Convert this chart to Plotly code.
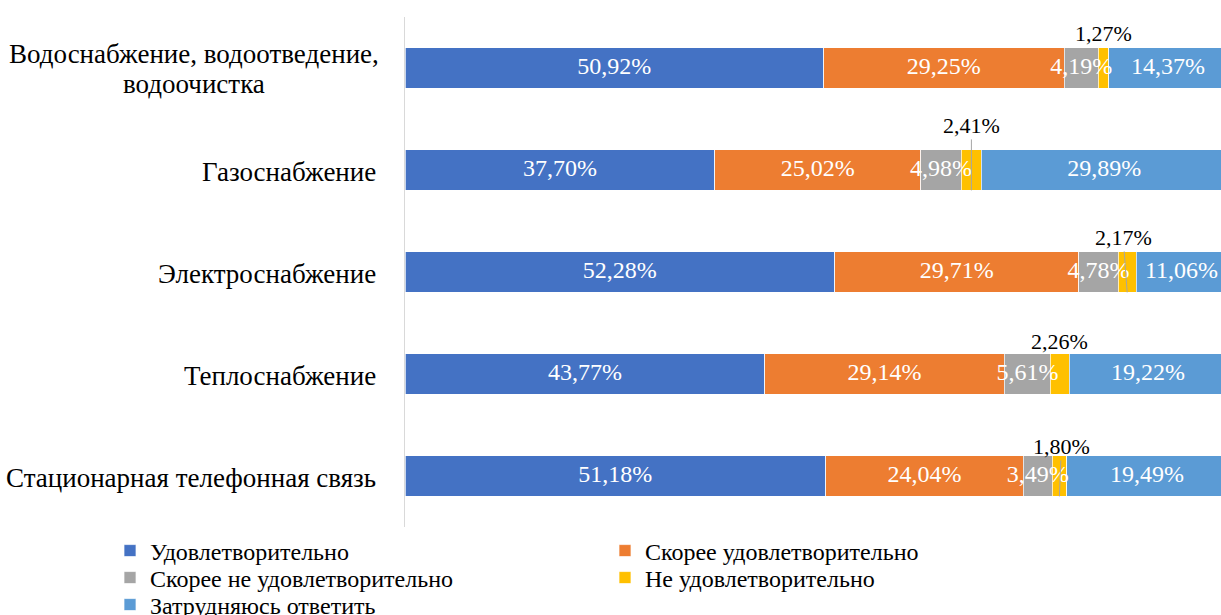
import plotly.graph_objects as go
import numpy as np

categories = [
    "Водоснабжение, водоотведение,<br>водоочистка",
    "Газоснабжение",
    "Электроснабжение",
    "Теплоснабжение",
    "Стационарная телефонная связь",
]
series_names = [
    "Удовлетворительно",
    "Скорее удовлетворительно",
    "Скорее не удовлетворительно",
    "Не удовлетворительно",
    "Затрудняюсь ответить",
]
satisfactory = [50.92, 37.70, 52.28, 43.77, 51.18]
rather_satisfactory = [29.25, 25.02, 29.71, 29.14, 24.04]
rather_unsatisfactory = [4.19, 4.98, 4.78, 5.61, 3.49]
unsatisfactory = [1.27, 2.41, 2.17, 2.26, 1.80]
hard_to_say = [14.37, 29.89, 11.06, 19.22, 19.49]

colors = ["#4472C4", "#ED7D31", "#A5A5A5", "#FFC000", "#5B9BD5"]
FONT = "Liberation Serif"

series = [satisfactory, rather_satisfactory, rather_unsatisfactory, unsatisfactory, hard_to_say]


def fmt(v):
    return f"{v:.2f}%".replace(".", ",")


# legend placement: (legend id, x, y) in container coordinates
legend_pos = [
    ("legend", 0.0901, 0.1041),
    ("legend2", 0.4955, 0.1041),
    ("legend3", 0.0901, 0.0602),
    ("legend4", 0.4955, 0.0602),
    ("legend5", 0.0901, 0.0163),
]

fig = go.Figure()
for name, vals, col, (lg, _, _) in zip(series_names, series, colors, legend_pos):
    fig.add_trace(go.Bar(
        name=name, y=categories, x=vals, orientation="h",
        marker=dict(color=col, line=dict(color="white", width=0.7)),
        hoverinfo="x+name", legend=lg,
    ))

# inside labels (drawn on top via scatter text)
arr = np.array(series)
cum = np.cumsum(arr, axis=0)
starts = cum - arr
centers = starts + arr / 2
tx, ty, tt = [], [], []
for k in [0, 1, 2, 4]:
    for i, c in enumerate(categories):
        tx.append(centers[k][i])
        ty.append(c)
        tt.append(fmt(arr[k][i]))
fig.add_trace(go.Scatter(
    x=tx, y=ty, text=tt, mode="text", showlegend=False,
    textfont=dict(family=FONT, size=24, color="white"), hoverinfo="skip",
))

# callout labels for "Не удовлетворительно"
callout = [  # (show line, ax, ay/yshift)
    (False, 0, 35),
    (True, 0, -65),
    (True, -4, -55),
    (False, 0, 33),
    (True, 2, -50),
]
for i, (line, ax, off) in enumerate(callout):
    xc = centers[3][i]
    if line:
        fig.add_annotation(
            x=xc, y=i + 0.2, xref="x", yref="y", text=fmt(unsatisfactory[i]),
            showarrow=True, arrowhead=0, arrowwidth=1, arrowcolor="#A5A5A5",
            ax=ax, ay=off, font=dict(family=FONT, size=22, color="black"),
        )
    else:
        fig.add_annotation(
            x=xc, y=i, xref="x", yref="y", text=fmt(unsatisfactory[i]),
            showarrow=False, yshift=off,
            font=dict(family=FONT, size=22, color="black"),
        )

# category labels
for c in categories:
    parts = c.split("<br>")
    if len(parts) == 1:
        fig.add_annotation(
            x=0, xref="paper", y=c, yref="y", text=c, showarrow=False,
            xanchor="right", xshift=-27, yshift=-2,
            font=dict(family=FONT, size=27, color="black"),
        )
    else:
        shifts = [14, -16]
        for p, ys in zip(parts, shifts):
            fig.add_annotation(
                x=0, xref="paper", y=c, yref="y", text=p, showarrow=False,
                xanchor="center", xshift=-211, yshift=ys,
                font=dict(family=FONT, size=27, color="black"),
            )

legends = {}
for lg, lx, ly in legend_pos:
    legends[lg] = dict(
        orientation="v", xref="container", yref="container",
        x=lx, y=ly, xanchor="left", yanchor="middle", traceorder="normal",
        font=dict(family=FONT, size=24, color="black"),
        itemclick=False, bgcolor="rgba(0,0,0,0)",
    )

fig.update_layout(
    barmode="stack",
    bargap=0.6,
    width=1221, height=615,
    margin=dict(l=405, r=0, t=17, b=88, autoexpand=False),
    paper_bgcolor="white", plot_bgcolor="white",
    font=dict(family=FONT, size=22, color="black"),
    showlegend=True,
    **legends,
)
fig.update_xaxes(range=[0, 99.27], visible=False, showgrid=False, fixedrange=True)
fig.update_yaxes(
    range=[4.5, -0.5], showline=True, linecolor="#D9D9D9", linewidth=1,
    ticks="", showticklabels=False, showgrid=False, fixedrange=True,
)

fig.write_html(
    "out.html",
    config={"displayModeBar": False},
    post_script="document.body.style.margin='0';document.body.style.overflow='hidden';",
)
